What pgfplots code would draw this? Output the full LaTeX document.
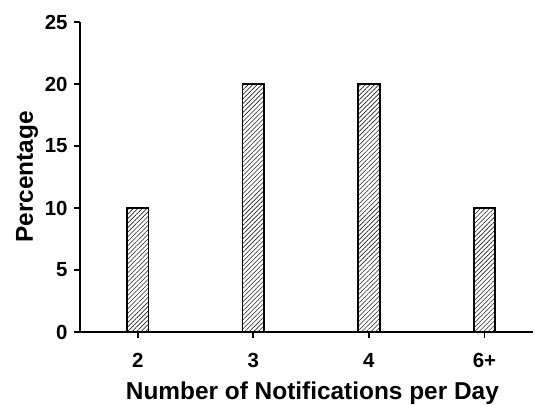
\documentclass[border=0pt]{standalone}
\usepackage{pgfplots}
\pgfplotsset{compat=1.18}
\usepackage{fontspec}
\setmainfont{Liberation Sans}
\usetikzlibrary{patterns.meta}
\newcommand{\tf}{\fontsize{20.5}{23}\selectfont\bfseries}
\begin{document}
\begin{tikzpicture}
\begin{axis}[
  scale only axis,
  width=453bp, height=310bp,
  xmin=-0.5, xmax=3.42,
  ymin=0, ymax=25,
  axis x line=bottom, axis y line=left,
  axis line style={-, line width=2.1pt},
  tick style={line width=1.8pt, black},
  major tick length=6bp,
  tick align=outside,
  xtick={0,1,2,3},
  xticklabels={{\tf 2},{\tf 3},{\tf 4},{\tf 6+}},
  ytick={0,5,10,15,20,25},
  yticklabel={\tf\pgfmathprintnumber[assume math mode=true]{\tick}},
  /pgf/number format/assume math mode=true,
  xticklabel style={yshift=-12bp},
  yticklabel style={xshift=-3bp},
  label style={font=\fontsize{24.5}{28}\selectfont\bfseries},
  xlabel={Number of Notifications per Day},
  ylabel={Percentage},
  ylabel style={at={(axis description cs:-0.117,0.5)}, anchor=center},
  xlabel style={at={(axis description cs:0.513,-0.218)}, anchor=base, inner sep=0pt},
  clip=false,
]
\addplot[ybar, bar width=21.5bp, draw=black, line width=1.8pt, fill=white,
  postaction={pattern={Lines[angle=45,distance=3.2pt,line width=0.6pt]}, pattern color=black!85}]
  coordinates {(0,10) (1,20) (2,20) (3,10)};
\end{axis}
\useasboundingbox ([xshift=-80bp,yshift=-73bp]current axis.south west) rectangle ([xshift=2bp,yshift=22bp]current axis.north east);
\end{tikzpicture}
\end{document}
